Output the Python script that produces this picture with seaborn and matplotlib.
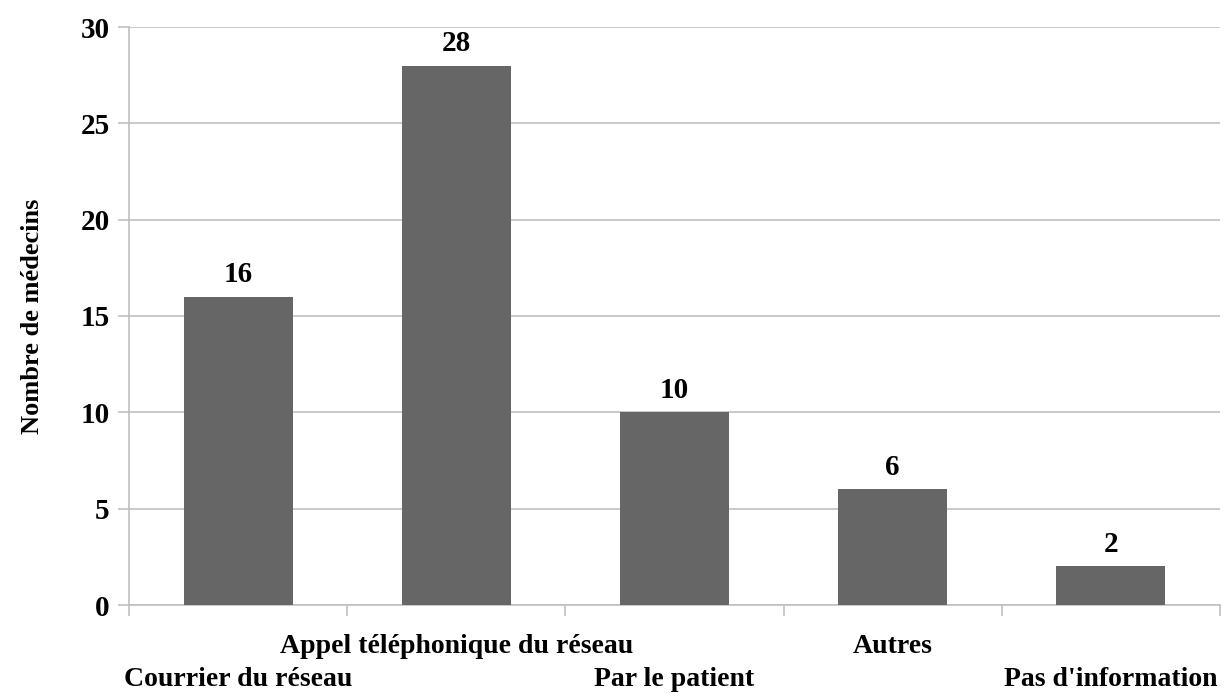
import matplotlib
matplotlib.use("Agg")
import matplotlib.pyplot as plt
import seaborn as sns
import pandas as pd
import numpy as np

categories = ["Courrier du réseau", "Appel téléphonique du réseau", "Par le patient",
              "Autres", "Pas d'information"]
values = [16, 28, 10, 6, 2]
yticks = [0, 5, 10, 15, 20, 25, 30]

sns.set_theme(style="white")
plt.rcParams['font.family'] = ['Liberation Serif', 'DejaVu Serif']
plt.rcParams['font.weight'] = 'bold'
plt.rcParams['text.color'] = 'black'
plt.rcParams['xtick.color'] = 'black'
plt.rcParams['ytick.color'] = 'black'
plt.rcParams['axes.labelcolor'] = 'black'

df = pd.DataFrame({"cat": categories, "val": values})

fig = plt.figure(figsize=(12.31, 6.93), dpi=100)
ax = fig.add_axes([129/1231, 1 - 605/693, (1220 - 129)/1231, (605 - 27)/693])

sns.barplot(data=df, x="cat", y="val", color="#666666", width=0.5, ax=ax,
            saturation=1, edgecolor="none", zorder=3)

ax.set_xlim(-0.5, len(categories) - 0.5)
ax.set_ylim(0, 30)
ax.set_yticks(yticks)
ax.set_yticklabels([str(t) for t in yticks], fontsize=21, fontweight='bold')
ax.yaxis.grid(True, color="#c0c0c0", linewidth=1.2, zorder=0)
ax.xaxis.grid(False)

for c in ax.containers:
    ax.bar_label(c, labels=[str(v) for v in values], padding=6,
                 fontsize=21, fontweight='bold', color='black')

# category labels at centers, staggered
ax.set_xticks(range(len(categories)))
ax.set_xticklabels(categories, fontsize=20, fontweight='bold')
for i, tick in enumerate(ax.xaxis.get_major_ticks()):
    tick.tick1line.set_visible(False)
    tick.set_pad(15 if i % 2 == 1 else 39)
ax.set_xticks(np.arange(-0.5, len(categories), 1.0), minor=True)
ax.tick_params(axis='x', which='minor', length=8, color="#c0c0c0", width=1.2, bottom=True)
ax.tick_params(axis='y', length=8, color="#c0c0c0", width=1.2, left=True, pad=6,
               labelcolor='black')
ax.tick_params(axis='x', which='major', labelcolor='black')

for s in ["top", "right"]:
    ax.spines[s].set_visible(False)
for s in ["left", "bottom"]:
    ax.spines[s].set_color("#c0c0c0")
    ax.spines[s].set_linewidth(1.2)

ax.set_xlabel("")
ax.set_ylabel("Nombre de médecins", fontsize=19, fontweight='bold', labelpad=26,
              color='black')

fig.savefig("out.png", dpi=100)
